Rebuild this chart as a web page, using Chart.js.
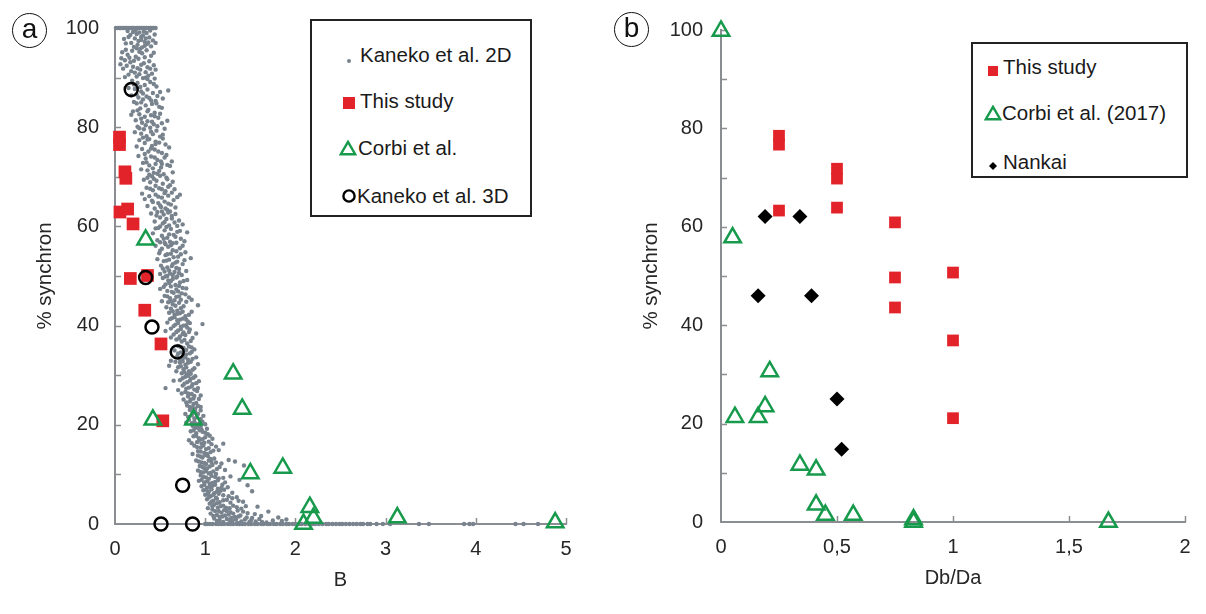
<!DOCTYPE html>
<html>
<head>
<meta charset="utf-8">
<script src="https://cdn.jsdelivr.net/npm/chart.js@4.4.1/dist/chart.umd.min.js"></script>
<style>
  html,body{margin:0;padding:0;background:#fff;}
  body{width:1206px;height:614px;position:relative;overflow:hidden;font-family:"Liberation Sans",Arial,sans-serif;}
  .pane{position:absolute;top:0;width:603px;height:614px;}
  .tag{position:absolute;width:33px;height:33px;border:1.8px solid #111;border-radius:50%;
       font-size:28px;line-height:29px;text-align:center;color:#111;}
  .legend{position:absolute;border:2px solid #222;background:#fff;box-sizing:border-box;}
  .row{position:absolute;height:24px;line-height:24px;font-size:20.5px;color:#1a1a1a;white-space:nowrap;}
  .mk{position:absolute;}
</style>
</head>
<body>
<div class="pane" style="left:0"><canvas id="ca"></canvas></div>
<div class="pane" style="left:603px"><canvas id="cb"></canvas></div>
<div class="tag" style="left:12px;top:13px">a</div>
<div class="tag" style="left:614px;top:12px">b</div>
<div id="legA" class="legend" style="left:310px;top:19px;width:222px;height:198px"></div>
<div id="legB" class="legend" style="left:971px;top:42px;width:217px;height:136px"></div>
<script>
// ---------- data ----------
const seriesNamesA = ["Kaneko et al. 2D", "This study", "Corbi et al.", "Kaneko et al. 3D"];
const seriesNamesB = ["This study", "Corbi et al. (2017)", "Nankai"];
const axisTitlesA = { x: "B", y: "% synchron" };
const axisTitlesB = { x: "Db/Da", y: "% synchron" };

// Panel (a): [B, % synchron]
const kaneko2D = [
 [.01,100],[.03,100],[.05,100],[.06,100],[.08,100],[.1,100],[.12,100],[.13,100],[.15,100],[.17,100],[.19,100],[.2,100],[.22,100],[.24,100],[.25,100],[.27,100],[.29,100],[.3,100],[.32,100],[.34,100],[.35,100],[.37,100],[.39,100],[.4,100],[.42,100],[.43,100],[.45,100],
 [.2,99.2],[.24,98.8],[.27,99.1],[.31,98.5],[.35,99],[.22,97.9],[.29,97.6],[.33,97.2],[.38,98.1],[.42,97.5],[.18,97],[.25,96.6],[.3,96.1],[.36,96.8],[.15,98.2],[.4,96.3],[.12,96.9],[.44,98.7],[.26,97.4],[.34,97.9],[.21,96.2],[.28,95.8],
 [.14,99.4],[.23,99.6],[.32,99.3],[.39,99.5],[.17,98.6],[.29,98.2],[.37,97.1],[.45,97],[.1,97.8],[.24,95.9],[.33,96.4],
 [.08,95.1],[.14,94.6],[.19,95.4],[.23,94.2],[.3,94.9],[.35,95.5],[.4,94.4],[.11,93.5],[.17,93.1],[.26,93.8],[.32,92.9],[.38,93.3],[.43,92.5],[.09,91.8],[.2,92.2],[.28,91.6],[.34,91.1],[.41,90.8],[.15,90.6],[.24,90.2],[.31,89.9],[.37,90.4],[.06,92.7],[.22,91],[.45,91.6],[.59,87.4],
 [.12,95.6],[.16,94],[.27,95.2],[.33,94.1],[.43,95],[.07,93.9],[.21,93.4],[.29,92.6],[.36,92.1],[.13,92.4],[.18,91.3],[.25,91.9],[.39,91.8],[.11,90.1],[.27,90.7],[.34,90],[.44,89.8],
 [.19,89.4],[.25,88.9],[.33,88.5],[.39,89.1],[.46,88.2],[.22,87.7],[.29,87.2],[.36,87.6],[.42,86.9],[.5,87.1],[.18,86.4],[.26,86],[.31,85.6],[.38,85.9],[.45,85.3],[.24,84.8],[.34,84.4],[.41,84.7],[.49,84.1],[.28,83.8],[.53,85.8],[.21,85.1],[.37,83.5],[.44,82.9],
 [.21,88.6],[.28,88.1],[.36,89.7],[.43,88.7],[.31,86.8],[.24,86.6],[.4,85.4],[.47,86.3],[.35,86.2],[.29,85],[.15,87.9],[.52,83.9],[.46,84.8],
 [.2,83.2],[.27,82.6],[.33,82.1],[.4,82.4],[.48,81.9],[.23,81.4],[.3,80.9],[.36,81.2],[.43,80.6],[.52,80.8],[.25,80.1],[.32,79.6],[.39,79.9],[.46,79.3],[.29,78.7],[.35,78.2],[.42,78.6],[.5,78.1],[.22,79],[.55,79.7],[.38,77.6],[.45,77.1],
 [.18,82.5],[.25,83.4],[.36,83.2],[.44,82.2],[.29,81.7],[.41,81.1],[.5,82.7],[.27,79.8],[.34,80.4],[.47,80.2],[.31,77.9],[.4,79.1],[.53,78.5],[.58,81.3],
 [.27,77.4],[.33,76.8],[.41,76.2],[.49,76.9],[.56,76.5],[.3,75.6],[.37,75.1],[.44,75.5],[.52,74.8],[.6,75.9],[.26,74.2],[.34,73.7],[.4,74.1],[.47,73.4],[.55,73.9],[.31,72.8],[.38,72.3],[.45,72.6],[.51,71.9],[.58,72.4],[.36,71.3],[.43,70.8],[.49,71.2],[.54,70.5],[.63,73.1],[.29,71.5],[.41,70.1],[.57,69.8],
 [.24,76.1],[.36,77.5],[.45,76.6],[.53,77.7],[.4,75.7],[.48,75.1],[.33,74.6],[.57,74.4],[.44,73.9],[.51,73.1],[.35,72.9],[.61,72.2],[.42,71.7],[.47,70.6],[.52,72.6],[.64,70.9],[.38,70.4],
 [.32,69.4],[.39,68.9],[.46,69.2],[.53,68.6],[.61,68.3],[.35,67.8],[.42,67.3],[.49,67.7],[.56,67.1],[.66,67.5],[.3,66.6],[.38,66.1],[.45,66.4],[.52,65.8],[.59,66.2],[.41,65.2],[.48,64.7],[.55,65],[.62,64.4],[.36,64.1],[.44,63.6],[.51,63.9],[.58,63.3],[.67,63.8],[.47,62.9],[.54,62.4],[.33,65.5],[.69,65.9],
 [.36,69.8],[.43,69.6],[.5,70.2],[.58,69.5],[.64,69],[.45,68.2],[.52,67.5],[.59,68],[.39,67.6],[.63,66.8],[.48,66],[.55,66.7],[.42,64.9],[.59,64.6],[.65,65.3],[.5,64.2],[.56,63.6],[.61,63],[.72,66.4],
 [.4,62.6],[.5,61.8],[.57,61.5],[.63,62.1],[.71,61.2],[.44,61],[.53,60.6],[.6,60.2],[.66,60.8],[.75,60.4],[.48,59.7],[.55,59.2],[.62,59.5],[.69,58.9],[.42,58.6],[.52,58.1],[.58,57.7],[.65,58.3],[.73,57.5],[.8,58.8],[.47,57.2],[.61,56.9],[.56,56.4],[.68,56.7],
 [.46,62.2],[.52,63],[.59,62.8],[.67,62.5],[.55,60.9],[.63,61.6],[.69,60.1],[.5,60],[.57,59.9],[.72,59.1],[.45,59.6],[.6,58.4],[.67,57.9],[.54,57.5],[.77,57],[.64,56.6],[.5,56.8],
 [.45,56.1],[.52,55.5],[.59,55.9],[.64,55.2],[.72,55.6],[.49,54.6],[.56,54.2],[.62,54.5],[.7,53.9],[.78,54.8],[.47,53.4],[.54,53],[.6,53.3],[.67,52.7],[.75,52.4],[.51,52.1],[.58,51.7],[.63,52],[.71,51.4],[.84,53.6],[.55,50.9],[.61,50.5],[.66,50.8],[.74,50.2],[.5,50.4],[.69,49.9],
 [.55,56.7],[.62,56.2],[.68,55],[.75,56.1],[.5,55.1],[.58,54.4],[.65,53.8],[.73,54.4],[.57,53.1],[.64,52.4],[.69,52.9],[.77,53.2],[.53,51.5],[.6,51.1],[.68,51.6],[.79,51],[.64,50.2],[.71,50.6],[.58,50],
 [.53,49.6],[.59,49.1],[.64,49.4],[.72,48.7],[.8,49.2],[.56,48.3],[.62,47.9],[.67,48.2],[.75,47.6],[.5,47.4],[.58,47],[.65,46.6],[.7,46.9],[.78,46.3],[.55,46],[.61,45.5],[.68,45.8],[.73,45.2],[.82,45.7],[.59,44.7],[.64,44.3],[.71,44.6],[.76,43.9],[.62,43.4],[.69,43],[.92,44.1],[.52,44.9],
 [.56,49.9],[.62,49],[.68,49.7],[.76,49],[.6,48.6],[.71,48],[.79,47.5],[.54,47.8],[.63,46.8],[.68,47.3],[.74,46.5],[.58,45.9],[.66,45.1],[.71,45.9],[.79,44.8],[.62,44.9],[.67,44],[.73,43.5],[.85,45.2],[.57,43.7],
 [.6,42.6],[.66,42.2],[.72,42.5],[.78,41.9],[.85,42.8],[.63,41.5],[.69,41.1],[.75,41.4],[.81,40.8],[.58,40.6],[.67,40.2],[.73,39.8],[.79,40.1],[.97,40.3],[.62,39.4],[.7,39],[.76,38.6],[.83,39.2],[.65,38.2],[.72,37.8],[.78,38.1],[.86,37.5],[.68,37.2],[.74,36.8],[.8,36.4],[.56,38.9],
 [.64,42.9],[.69,42.4],[.75,42.8],[.82,42.2],[.66,41.7],[.72,41.2],[.79,41.2],[.61,41.3],[.7,40.5],[.76,40],[.83,40.5],[.65,39.9],[.73,39.3],[.8,39.6],[.68,38.7],[.75,38.3],[.82,38.7],[.71,37.4],[.77,37.1],[.84,36.9],[.62,37.6],[.9,38.4],
 [.7,35.9],[.76,35.5],[.82,35.8],[.88,35.2],[.66,35],[.73,34.6],[.79,34.2],[.85,34.7],[.69,33.8],[.75,33.4],[.81,33.1],[.9,33.6],[.62,32.9],[.72,32.5],[.78,32.1],[.84,32.7],[.7,31.6],[.76,31.2],[.82,30.8],[.88,31.4],[.74,30.4],[.8,30.1],[.6,31.9],[.92,32.2],
 [.73,35.7],[.79,35.1],[.85,35.6],[.7,34.4],[.76,34],[.83,34.4],[.72,33.2],[.78,33.6],[.86,33.3],[.67,32.7],[.75,32.8],[.81,32.5],[.73,31.8],[.79,31.6],[.86,31.1],[.77,30.6],[.84,30.3],[.68,30.8],
 [.78,29.7],[.84,29.3],[.89,29.8],[.72,29],[.8,28.6],[.86,28.2],[.93,28.8],[.75,27.9],[.82,27.5],[.88,27.1],[.7,27],[.78,26.6],[.85,26.2],[.91,26.8],[.81,25.7],[.87,25.3],[.76,25.1],[.83,24.7],[.9,24.4],[.56,27.4],[.95,25.9],[.65,28.9],
 [.75,29.4],[.81,29.9],[.87,29.5],[.77,28.3],[.83,28.9],[.9,28.4],[.79,27.3],[.85,27.7],[.92,27.4],[.74,26.3],[.81,26.3],[.88,25.8],[.84,25.1],[.93,25.2],[.79,24.5],[.87,24.2],
 [.8,23.9],[.86,23.5],[.92,23.8],[.83,23],[.89,22.6],[.95,22.9],[.78,22.2],[.85,21.9],[.91,21.5],[.98,21.8],[.82,21],[.88,20.6],[.94,20.3],[.86,19.8],[.92,19.4],[1,20.1],[.79,20.4],[.96,19],
 [.83,23.6],[.89,23.3],[.95,23.6],[.86,22.4],[.92,22.2],[.81,21.6],[.88,21.3],[.95,21.2],[.85,20.3],[.91,20.1],[.97,20.6],[.89,19.4],[.95,19.6],[1.02,19.2],
 [.84,18.7],[.9,18.3],[.97,18.6],[1.03,18.1],[.87,17.7],[.93,17.3],[1,17.5],[1.08,17.2],[.82,16.9],[.91,16.5],[.96,16.2],[1.04,16.6],[.88,15.8],[.95,15.4],[1.01,15.1],[1.12,15.6],[.92,14.7],[.99,14.3],[1.06,14.5],[.86,14.1],[1.15,14.9],
 [.87,18.9],[.94,18.9],[1,18.4],[.9,17.8],[.97,17.1],[1.05,17.8],[.85,16.3],[.93,16.8],[.99,16.4],[1.07,16.1],[.91,15.5],[.98,15.8],[1.04,15.3],[.95,14.6],[1.02,14.1],[1.09,14.8],[1.2,16.2],
 [.92,13.8],[.97,13.4],[1.03,13.7],[1.1,13.2],[1.26,12.9],[1.33,12.6],[.9,12.8],[.96,12.4],[1.01,12.1],[1.07,12.5],[1.18,12.2],[.94,11.7],[.99,11.3],[1.05,11.6],[1.13,11.1],[.92,10.8],[.98,10.4],[1.04,10.2],[1.09,10.6],[1.22,10.9],[1.43,11.8],[.95,9.8],[1.01,9.4],[1.07,9.7],[1.15,9.2],[1.28,9.6],[1.38,8.9],
 [.95,13.6],[1,13.9],[1.06,13.1],[.93,12.6],[.99,12.3],[1.04,12.8],[1.12,12.4],[.97,11.5],[1.02,11.2],[1.08,11.9],[1.16,11.5],[.95,10.5],[1.01,10.7],[1.06,10.3],[1.12,10.1],[.98,9.5],[1.04,9.1],[1.11,9.5],[1.2,9.3],
 [.93,8.7],[.99,8.4],[1.05,8.1],[1.11,8.5],[1.19,7.9],[.96,7.6],[1.02,7.3],[1.08,7.7],[1.14,7.1],[1.25,7.4],[1.47,7.8],[.98,6.8],[1.04,6.5],[1.1,6.2],[1.17,6.7],[1.3,6.3],[1.52,6.6],[1,5.9],[1.06,5.6],[1.12,5.3],[1.2,5.8],[1.35,5.4],[1.02,5],[1.09,4.7],[1.16,4.4],[1.24,4.9],[1.42,4.5],[1.05,4.1],
 [.96,8.9],[1.02,8.6],[1.08,8.3],[1.14,8.8],[1.22,8.4],[.99,7.9],[1.05,7.5],[1.11,7.9],[1.18,7.3],[1.01,6.9],[1.07,7],[1.13,6.5],[1.21,6.9],[1.03,6.1],[1.09,5.9],[1.15,6.1],[1.26,5.6],[1.04,5.4],[1.13,5.1],[1.2,4.8],[1.3,5.2],[1.07,4.5],[1.13,4.2],[1.28,4.3],[1.37,4.7],
 [1.1,3.9],[1.17,3.6],[1.23,3.3],[1.31,3.7],[1.4,3.1],[1.58,3.5],[1.03,3.2],[1.08,2.9],[1.15,2.6],[1.21,2.8],[1.28,2.4],[1.36,2.7],[1.47,2.2],[1.7,2.5],[1.06,2.1],[1.13,1.8],[1.19,1.5],[1.26,1.9],[1.33,1.4],[1.39,1.7],[1.52,1.2],[1.62,1.6],[1.81,1.3],[1.1,1.1],[1.16,.8],[1.24,1],[1.3,.6],[1.44,.9],[1.56,.5],[1.75,.7],[1.68,.3],[1.2,.4],[1.36,.2],[1.49,.4],
 [1.08,3.6],[1.14,3.3],[1.2,3.7],[1.27,3.2],[1.35,3.4],[1.45,3.6],[1.11,2.6],[1.18,2.3],[1.24,2.6],[1.31,2.1],[1.42,2.5],[1.55,2],[1.09,1.6],[1.16,1.4],[1.22,1.7],[1.29,1.2],[1.37,1.5],[1.46,1.3],[1.6,1],[1.13,.6],[1.27,.8],[1.34,.9],[1.4,.5],[1.51,.8],[1.63,.4],[1.85,.6],[1.9,.9],
 [1,0],[1.02,0],[1.05,0],[1.08,0],[1.12,0],[1.15,0],[1.18,0],[1.21,0],[1.25,0],[1.28,0],[1.31,0],[1.35,0],[1.38,0],[1.41,0],[1.44,0],[1.48,0],[1.51,0],[1.55,0],[1.58,0],[1.62,0],[1.65,0],[1.69,0],[1.72,0],[1.76,0],[1.79,0],[1.83,0],[1.86,0],[1.9,0],[1.93,0],[1.97,0],[2,0],[2.04,0],[2.07,0],[2.11,0],[2.15,0],[2.19,0],[2.22,0],[2.26,0],[2.3,0],[2.34,0],[2.37,0],[2.41,0],[2.45,0],[2.49,0],[2.52,0],[2.56,0],[2.6,0],[2.64,0],[2.68,0],[2.72,0],[2.75,0],[2.8,0],[2.83,0],[2.9,0],[2.97,0],[3.05,0],[3.37,0],[3.48,0],[3.87,0],[3.93,0],[3.97,0],[4.44,0],[4.53,0],[4.69,0]
];
const thisStudyA = [[0.05,78],[0.05,76.5],[0.11,71],[0.12,69.7],[0.055,62.9],[0.14,63.5],[0.2,60.5],[0.17,49.5],[0.36,50.1],[0.33,43.1],[0.51,36.3],[0.53,20.8]];
const corbiA = [[0.34,57.3],[0.42,21],[0.87,21],[1.31,30.3],[1.41,23.2],[1.5,10.2],[1.86,11.3],[2.16,3.4],[2.2,1.2],[2.09,0],[3.13,1.3],[4.88,0.3]];
const kaneko3D = [[0.18,87.6],[0.34,49.7],[0.41,39.7],[0.69,34.7],[0.75,7.8],[0.51,0],[0.86,0]];

// Panel (b): [Db/Da, % synchron]
const thisStudyB = [[0.25,78.5],[0.25,76.7],[0.25,63.3],[0.5,71.8],[0.5,69.8],[0.5,63.9],[0.75,60.9],[0.75,49.7],[0.75,43.6],[1,50.7],[1,36.9],[1,21.1]];
const corbiB = [[0,99.8],[0.05,57.8],[0.06,21.3],[0.16,21.3],[0.19,23.5],[0.21,30.6],[0.34,11.6],[0.41,10.6],[0.41,3.5],[0.45,1.4],[0.57,1.4],[0.83,0.5],[0.83,0],[1.67,0]];
const nankai = [[0.19,62.1],[0.34,62.1],[0.16,46],[0.39,46],[0.5,25],[0.52,14.8]];

// Tick values
const xTicksA = { min: 0, max: 5, step: 1 };
const xTicksB = { min: 0, max: 2, step: 0.5 };
const yTicks = { min: 0, max: 100, step: 10, labelEvery: 20 };

// ---------- styles ----------
const FONT = '"Liberation Sans", Arial, sans-serif';
const AXIS = '#8a8d91';
const TXT = '#262626';
const GRAY = '#78838e';
const RED = '#e3232a';
const GREEN = '#179a4c';
const BLACK = '#000';

const toXY = arr => arr.map(p => ({ x: p[0], y: p[1] }));

const innerTicks = {
  id: 'innerTicks',
  beforeDatasetsDraw(chart) {
    const { ctx, chartArea: a, scales: { x, y } } = chart;
    ctx.save();
    ctx.strokeStyle = AXIS;
    ctx.lineWidth = 1.5;
    ctx.beginPath();
    y.ticks.forEach(t => {
      if (t.value === y.min) return;
      const py = Math.round(y.getPixelForValue(t.value)) + 0.5;
      ctx.moveTo(a.left, py); ctx.lineTo(a.left + 6, py);
    });
    x.ticks.forEach(t => {
      if (t.value === x.min) return;
      const px = Math.round(x.getPixelForValue(t.value)) + 0.5;
      ctx.moveTo(px, a.bottom); ctx.lineTo(px, a.bottom - 6);
    });
    ctx.stroke();
    ctx.restore();
  }
};

function makeOptions(cfg) {
  return {
    responsive: true,
    maintainAspectRatio: false,
    animation: false,
    events: [],
    layout: { padding: cfg.padding },
    plugins: { legend: { display: false }, tooltip: { enabled: false } },
    scales: {
      x: {
        type: 'linear', min: cfg.xt.min, max: cfg.xt.max,
        grid: { display: false, drawTicks: false },
        border: { display: true, color: AXIS, width: 2 },
        ticks: {
          stepSize: cfg.xt.step, autoSkip: false, maxRotation: 0, padding: 13,
          color: TXT, font: { family: FONT, size: 20 },
          callback: v => String(v).replace('.', ',')
        },
        title: { display: true, text: cfg.titles.x, color: TXT, font: { family: FONT, size: 20 }, padding: { top: 0, bottom: cfg.xTitlePad } },
        afterFit: s => { s.height = cfg.xHeight; }
      },
      y: {
        type: 'linear', min: yTicks.min, max: yTicks.max,
        grid: { display: false, drawTicks: false },
        border: { display: true, color: AXIS, width: 2 },
        ticks: {
          stepSize: yTicks.step, autoSkip: false, padding: cfg.yTickPad,
          color: TXT, font: { family: FONT, size: 20 },
          callback: v => (v % yTicks.labelEvery === 0 ? String(v) : '')
        },
        title: { display: true, text: cfg.titles.y, color: TXT, font: { family: FONT, size: 20.5 }, padding: { top: cfg.yTitlePad, bottom: 0 } },
        afterFit: s => { s.width = cfg.yWidth; }
      }
    }
  };
}

// ---------- chart (a) ----------
new Chart(document.getElementById('ca'), {
  type: 'scatter',
  data: {
    datasets: [
      { label: seriesNamesA[3], data: toXY(kaneko3D), order: 0, clip: false, pointStyle: 'circle', pointRadius: 6.5, borderWidth: 2.5, borderColor: BLACK, backgroundColor: 'rgba(0,0,0,0)' },
      { label: seriesNamesA[2], data: toXY(corbiA), order: 1, clip: false, pointStyle: 'triangle', pointRadius: 9.5, borderWidth: 2.5, borderColor: GREEN, backgroundColor: 'rgba(0,0,0,0)' },
      { label: seriesNamesA[1], data: toXY(thisStudyA), order: 2, clip: false, pointStyle: 'rect', pointRadius: 9, borderWidth: 0, backgroundColor: RED },
      { label: seriesNamesA[0], data: toXY(kaneko2D), order: 3, clip: false, pointStyle: 'circle', pointRadius: 2.2, borderWidth: 0, backgroundColor: GRAY }
    ]
  },
  options: makeOptions({ padding: { left: 0, top: 23, right: 37, bottom: 0 }, xt: xTicksA, titles: axisTitlesA, xHeight: 90, yWidth: 115, xTitlePad: 22, yTitlePad: 33, yTickPad: 16 }),
  plugins: [innerTicks]
});

// ---------- chart (b) ----------
new Chart(document.getElementById('cb'), {
  type: 'scatter',
  data: {
    datasets: [
      { label: seriesNamesB[2], data: toXY(nankai), order: 0, clip: false, pointStyle: 'rectRot', pointRadius: 7.5, borderWidth: 0, backgroundColor: BLACK },
      { label: seriesNamesB[1], data: toXY(corbiB), order: 1, clip: false, pointStyle: 'triangle', pointRadius: 9.5, borderWidth: 2.5, borderColor: GREEN, backgroundColor: 'rgba(0,0,0,0)' },
      { label: seriesNamesB[0], data: toXY(thisStudyB), order: 2, clip: false, pointStyle: 'rect', pointRadius: 8.3, borderWidth: 0, backgroundColor: RED }
    ]
  },
  options: makeOptions({ padding: { left: 0, top: 29, right: 21, bottom: 0 }, xt: xTicksB, titles: axisTitlesB, xHeight: 92, yWidth: 118, xTitlePad: 24, yTitlePad: 36, yTickPad: 18 }),
  plugins: [innerTicks]
});

// ---------- legends (HTML, real text) ----------
const markers = {
  dot: `<svg width="8" height="8"><circle cx="4" cy="4" r="2" fill="${GRAY}"/></svg>`,
  square: s => `<svg width="${s}" height="${s}"><rect x="0" y="0" width="${s}" height="${s}" fill="${RED}"/></svg>`,
  triangle: `<svg width="18" height="16"><polygon points="9,1.8 16.2,14.2 1.8,14.2" fill="none" stroke="${GREEN}" stroke-width="2.4"/></svg>`,
  circle: `<svg width="16" height="16"><circle cx="8" cy="8" r="5.6" fill="none" stroke="${BLACK}" stroke-width="2.4"/></svg>`,
  diamond: `<svg width="10" height="10"><polygon points="5,1 9,5 5,9 1,5" fill="${BLACK}"/></svg>`
};
function addRow(box, boxLeft, boxTop, cy, mx, tx, svg, w, h, label) {
  const m = document.createElement('div');
  m.className = 'mk';
  m.style.left = (mx - w / 2 - boxLeft - 2) + 'px';
  m.style.top = (cy - h / 2 - boxTop - 2) + 'px';
  m.style.width = w + 'px'; m.style.height = h + 'px';
  m.innerHTML = svg;
  box.appendChild(m);
  const t = document.createElement('div');
  t.className = 'row';
  t.style.left = (tx - boxLeft - 2) + 'px';
  t.style.top = (cy - 12 - boxTop - 2) + 'px';
  t.textContent = label;
  box.appendChild(t);
}
const legA = document.getElementById('legA');
addRow(legA, 310, 19, 55, 349, 360, markers.dot, 8, 8, seriesNamesA[0]);
addRow(legA, 310, 19, 101, 349, 360, markers.square(12), 12, 12, seriesNamesA[1]);
addRow(legA, 310, 19, 148, 348, 358, markers.triangle, 18, 16, seriesNamesA[2]);
addRow(legA, 310, 19, 196, 349, 357, markers.circle, 16, 16, seriesNamesA[3]);

const legB = document.getElementById('legB');
addRow(legB, 971, 42, 67, 993, 1003, markers.square(10), 10, 10, seriesNamesB[0]);
addRow(legB, 971, 42, 113, 993, 1002, markers.triangle, 18, 16, seriesNamesB[1]);
addRow(legB, 971, 42, 162, 993, 1003, markers.diamond, 10, 10, seriesNamesB[2]);
</script>
</body>
</html>
